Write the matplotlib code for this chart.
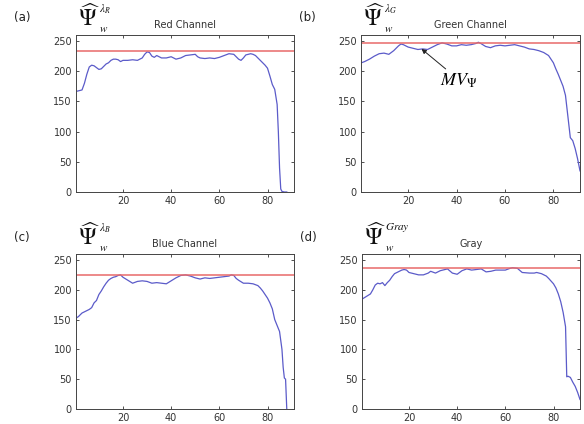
import numpy as np
import matplotlib.pyplot as plt

# values (x = window index, y = mean value)
red_x = [1, 2, 3, 4, 5, 6, 7, 8, 9, 10, 11, 12, 13, 14, 15, 16, 17, 18, 19, 20,
         22, 24, 26, 27, 28, 29, 30, 31, 32, 33, 34, 35, 36, 38, 40, 42, 44, 46,
         48, 50, 51, 52, 54, 56, 58, 60, 62, 64, 66, 67, 68, 69, 70, 71, 72, 73,
         74, 75, 76, 77, 78, 79, 80, 81, 82, 83, 84, 84.5, 85, 85.5, 86, 87, 88]
red_y = [167, 168, 169, 180, 195, 207, 210, 209, 206, 203, 204, 208, 212, 214,
         218, 220, 220, 219, 216, 218, 218, 219, 218, 220, 222, 228, 232, 231,
         225, 223, 226, 224, 222, 222, 224, 220, 222, 226, 227, 228, 224, 222,
         221, 222, 221, 223, 226, 229, 228, 224, 220, 218, 222, 227, 228, 229,
         228, 226, 222, 218, 214, 210, 205, 192, 178, 170, 145, 100, 40, 5, 1, 0, 0]

green_x = [0, 2, 4, 6, 8, 10, 12, 14, 16, 17, 18, 20, 22, 24, 26, 28, 30, 32, 34,
           36, 38, 40, 42, 44, 46, 48, 49, 50, 52, 54, 56, 58, 60, 62, 64, 66, 68,
           70, 72, 74, 76, 78, 80, 81, 82, 83, 84, 85, 86, 87, 88, 89, 90, 91]
green_y = [213, 216, 220, 225, 229, 230, 228, 234, 242, 245, 244, 240, 238, 236,
           237, 236, 240, 244, 247, 245, 242, 242, 244, 243, 244, 246, 248, 246,
           241, 239, 242, 243, 242, 243, 244, 242, 240, 237, 236, 234, 231, 226,
           214, 204, 195, 185, 175, 160, 125, 90, 85, 72, 55, 35]

blue_x = [0, 1.5, 3, 4.5, 6, 7, 8, 9, 10, 11, 12, 13, 14, 15, 16, 17, 18, 19,
          20, 22, 24, 26, 28, 30, 32, 34, 36, 38, 40, 42, 44, 46, 48, 50, 52, 54,
          56, 58, 60, 62, 64, 65, 66, 67, 68, 70, 72, 74, 76, 77, 78, 79, 80, 81,
          82, 83, 84, 85, 86, 86.5, 87, 87.5, 88]
blue_y = [151, 155, 161, 164, 167, 170, 178, 182, 192, 198, 205, 211, 216, 219,
          221, 222, 224, 225, 221, 216, 211, 214, 215, 214, 211, 212, 211, 210,
          215, 220, 224, 225, 223, 220, 218, 220, 219, 220, 221, 222, 223, 225,
          224, 219, 216, 211, 211, 210, 207, 203, 198, 192, 186, 178, 168, 150,
          140, 130, 100, 70, 52, 50, 0]

gray_x = [0, 2, 4, 5, 6, 7, 8, 9, 10, 11, 12, 13, 14, 15, 16, 17, 18, 19, 20, 22,
          24, 26, 28, 29, 31, 33, 34, 36, 38, 40, 42, 44, 46, 48, 50, 52, 54, 56,
          58, 60, 62, 63, 65, 67, 70, 72, 73, 75, 77, 78, 80, 81, 82, 83, 84, 85,
          85.5, 86, 87, 88, 89, 90, 91]
gray_y = [183, 188, 193, 200, 208, 211, 210, 212, 207, 212, 216, 222, 227, 229,
          231, 233, 234, 233, 229, 227, 225, 225, 228, 231, 228, 232, 233, 235,
          228, 226, 232, 235, 233, 234, 235, 230, 231, 233, 233, 233, 236, 237,
          236, 229, 228, 228, 229, 227, 223, 219, 210, 203, 193, 180, 162, 138,
          54, 55, 53, 45, 38, 28, 16]

max_vals = [233, 247, 225, 237]
panel_tags = ["(a)", "(b)", "(c)", "(d)"]
titles = ["Red Channel", "Green Channel", "Blue Channel", "Gray"]
sup_labels = [r"$\lambda_R$", r"$\lambda_G$", r"$\lambda_B$", r"$Gray$"]
y_ticks = [0, 50, 100, 150, 200, 250]
x_ticks = [20, 40, 60, 80]

series = [(red_x, red_y), (green_x, green_y), (blue_x, blue_y), (gray_x, gray_y)]

plt.rcParams["mathtext.fontset"] = "stix"

fig = plt.figure(figsize=(5.84, 4.24), dpi=100)
W, H = 584.0, 424.0
# axes boxes in pixels: left, top, right, bottom
boxes = [(76, 35, 294, 192), (361, 35, 580, 192),
         (76, 254, 294, 409), (362, 254, 580, 409)]

for i, (xs, ys) in enumerate(series):
    l, t, r, b = boxes[i]
    ax = fig.add_axes([l / W, 1 - b / H, (r - l) / W, (b - t) / H])
    ax.plot(xs, ys, color="#5b5bc9", lw=0.9)
    ax.axhline(max_vals[i], color="#e86a6a", lw=1.1)
    ax.set_xlim(0.5, 91)
    ax.set_ylim(0, 260)
    ax.set_xticks(x_ticks)
    ax.set_yticks(y_ticks)
    ax.tick_params(direction="in", top=True, right=True, length=2.5, width=0.6,
                   labelsize=7, colors="#333333", pad=3)
    for s in ax.spines.values():
        s.set_linewidth(0.7)
        s.set_color("#444444")
    ax.set_title(titles[i], fontsize=7, color="#333333", pad=5)

    fig.text((l - 62) / W, 1 - (t - 17) / H, panel_tags[i], fontsize=8.5,
             color="#222222", ha="left", va="center")
    # big hat-Psi, small sub/superscripts placed by hand
    fig.text((l + 2) / W, 1 - (t - 17) / H, r"$\widehat{\Psi}$",
             fontsize=17, color="#111111", ha="left", va="center")
    fig.text((l + 23) / W, 1 - (t - 6) / H, r"$w$",
             fontsize=8, color="#111111", ha="left", va="center")
    fig.text((l + 23) / W, 1 - (t - 26) / H, sup_labels[i],
             fontsize=8, color="#111111", ha="left", va="center")

    if i == 1:
        ax.annotate(r"$MV_{\Psi}$", xy=(25.5, 237), xytext=(33, 184),
                    fontsize=13, ha="left", va="center",
                    arrowprops=dict(arrowstyle="-|>", color="#222222", lw=0.7,
                                    shrinkA=0, shrinkB=0, mutation_scale=7,
                                    relpos=(0.25, 1.0)))

fig.savefig("out.png", dpi=100, facecolor="white")
